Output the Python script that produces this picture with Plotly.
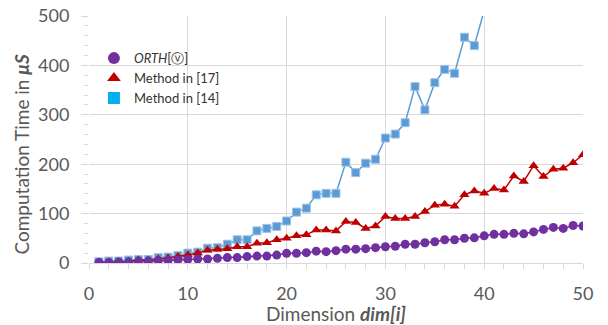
import plotly.graph_objects as go

dims = list(range(1, 51))
orth = [1, 1, 2, 2, 3.5, 3.5, 4.5, 5, 6, 7,
        8, 8, 9.5, 11, 11, 13, 14, 14, 16, 19.5,
        19.5, 21, 24, 23, 25, 28, 28, 29, 31, 33,
        34, 38, 38, 41, 43, 47, 47, 50, 51, 55,
        58, 58, 60, 59, 63, 68, 72, 70, 76, 75]
method17 = [1, 2, 2, 3, 6, 6, 8, 10, 13, 16,
            20, 26, 28, 29, 33, 33, 40, 41, 47, 50,
            55, 57, 67, 67, 65, 84, 82, 70, 75, 94,
            90, 90, 94, 104, 117, 119, 115, 138, 146, 141,
            151, 148, 176, 165, 197, 175, 190, 192, 203, 219]
dims14 = list(range(1, 41))
method14 = [2.6, 4, 4, 6, 7, 7, 11, 12, 15, 20,
            22, 30, 31, 38, 47, 47, 65, 70, 74, 85,
            103, 111, 138, 141, 141, 204, 183, 202, 210, 253,
            261, 284, 357, 310, 365, 392, 384, 457, 440, 511]

names = ["<i>ORTH</i>[ⓥ]", "Method in [17]", "Method in [14]"]

PURPLE = "#7030a0"
RED = "#c00000"
BLUE = "#5b9bd5"
CYAN = "#00b0f0"
FONT = "Lato"
GRID = "#d9d9d9"
TXT = "#595959"

fig = go.Figure()
fig.add_trace(go.Scatter(x=dims14, y=method14, mode="lines+markers", showlegend=False,
                         line=dict(color=BLUE, width=1.5),
                         marker=dict(symbol="square", size=8, color=BLUE,
                                     line=dict(color="#9dc3e6", width=1))))
fig.add_trace(go.Scatter(x=dims, y=method17, mode="lines+markers", showlegend=False,
                         line=dict(color=RED, width=1.5),
                         marker=dict(symbol="triangle-up", size=9, color=RED)))
fig.add_trace(go.Scatter(x=dims, y=orth, mode="lines+markers", showlegend=False,
                         line=dict(color=PURPLE, width=1.5),
                         marker=dict(symbol="circle", size=9, color=PURPLE)))

# legend entries
for nm, sym, col in [(names[0], "circle", PURPLE), (names[1], "triangle-up", RED),
                     (names[2], "square", CYAN)]:
    fig.add_trace(go.Scatter(x=[None], y=[None], mode="markers", name=nm,
                             marker=dict(symbol=sym, size=8, color=col)))

fig.update_layout(
    width=608, height=325,
    margin=dict(l=89, r=25, t=16, b=62),
    paper_bgcolor="white", plot_bgcolor="white",
    font=dict(family=FONT, color=TXT, size=15),
    showlegend=True,
    legend=dict(x=0.01, y=0.89, xanchor="left", yanchor="top",
                bgcolor="rgba(0,0,0,0)", font=dict(size=13, color="#333333"),
                tracegroupgap=0, itemsizing="constant", itemwidth=30),
    xaxis=dict(range=[0, 50], dtick=10, tick0=0, showgrid=True, gridcolor=GRID,
               gridwidth=1, zeroline=False, showline=True, linecolor=GRID,
               ticks="outside", ticklen=5, tickcolor=GRID, automargin=False,
               tickfont=dict(size=18, color=TXT), ticklabelstandoff=9,
               minor=dict(dtick=2, ticks="outside", ticklen=5, tickcolor=GRID, showgrid=False),
               title=dict(text="Dimension <b><i>dim[i]</i></b>", font=dict(size=19, color=TXT),
                          standoff=5)),
    yaxis=dict(range=[0, 500], dtick=100, showgrid=True, gridcolor=GRID, gridwidth=1,
               zeroline=False, showline=False, automargin=False,
               ticks="outside", ticklen=7, tickcolor=GRID,
               tickfont=dict(size=18, color=TXT), ticklabelstandoff=8,
               minor=dict(dtick=20, ticks="outside", ticklen=4, tickcolor=GRID, showgrid=False)),
    annotations=[dict(text="Computation Time in <b><i>μS</i></b>", xref="paper", yref="paper",
                      x=-0.1356, y=0.439, xanchor="center", yanchor="middle",
                      textangle=-90, showarrow=False, font=dict(size=19, color=TXT))],
)

fig.write_html("out.html")
